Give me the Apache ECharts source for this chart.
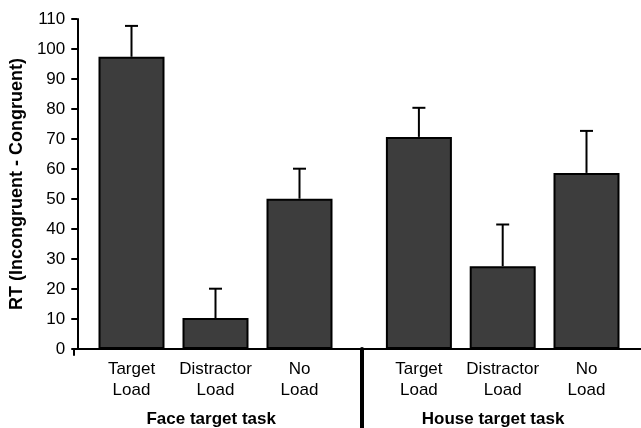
<!DOCTYPE html>
<html>
<head>
<meta charset="utf-8">
<script src="https://cdn.jsdelivr.net/npm/echarts@6/dist/echarts.min.js"></script>
<style>
html,body{margin:0;padding:0;background:#fff;}
#chart{width:641px;height:428px;}
</style>
</head>
<body>
<div id="chart"></div>
<script>
// ---- data ----
const groups = ['Face target task', 'House target task'];
const conditions = ['Target\nLoad', 'Distractor\nLoad', 'No\nLoad'];
const faceValues = [97.4, 10.3, 50.1];
const faceErrors = [10.3, 9.8, 10.0];
const houseValues = [70.7, 27.6, 58.7];
const houseErrors = [9.7, 13.9, 14.0];
const yTicks = { min: 0, max: 110, interval: 10 };

const FONT = '"Liberation Sans", Arial, Helvetica, sans-serif';
const chart = echarts.init(document.getElementById('chart'), null, { renderer: 'canvas' });

function errorRender(params, api) {
  const x = api.value(0), v = api.value(1), e = api.value(2);
  const base = api.coord([x, v]);
  const top = api.coord([x, v + e]);
  const hw = 6.5;
  return {
    type: 'group',
    children: [
      { type: 'line', shape: { x1: base[0], y1: base[1], x2: top[0], y2: top[1] }, style: { stroke: '#000', lineWidth: 2 } },
      { type: 'line', shape: { x1: top[0] - hw, y1: top[1], x2: top[0] + hw, y2: top[1] }, style: { stroke: '#000', lineWidth: 2 } }
    ]
  };
}

const barStyle = { color: '#3d3d3d', borderColor: '#000', borderWidth: 2 };
const catLabel = { color: '#000', fontSize: 17, lineHeight: 21, fontFamily: FONT, margin: 10, interval: 0 };

const option = {
  backgroundColor: '#fff',
  animation: false,
  grid: [
    { left: 74, right: -8, top: 19, bottom: 79 },        // frame grid: axes, group labels
    { left: 89.5, width: 252, top: 19, bottom: 79 },      // face group
    { left: 377, width: 251.4, top: 19, bottom: 79 },     // house group
    { left: 361.5, width: 50, top: 349, bottom: 0 },      // group separator
    { left: 74, width: 50, top: 349, height: 6 }          // y-axis stub below zero
  ],
  xAxis: [
    {
      gridIndex: 0, type: 'category', data: groups, position: 'bottom',
      axisLine: { show: true, lineStyle: { color: '#000', width: 2 } },
      axisTick: { show: false },
      axisLabel: { color: '#000', fontSize: 17, fontWeight: 'bold', fontFamily: FONT, margin: 62, padding: [0, 14, 0, 0], interval: 0 },
      splitLine: { show: false }
    },
    {
      gridIndex: 1, type: 'category', data: conditions,
      axisLine: { show: false }, axisTick: { show: false }, axisLabel: catLabel
    },
    {
      gridIndex: 2, type: 'category', data: conditions,
      axisLine: { show: false }, axisTick: { show: false }, axisLabel: catLabel
    },
    { gridIndex: 3, type: 'value', show: false, min: 0, max: 1, splitLine: { show: false } },
    { gridIndex: 4, type: 'value', show: false, min: 0, max: 1, splitLine: { show: false } }
  ],
  yAxis: [
    {
      gridIndex: 0, type: 'value', min: yTicks.min, max: yTicks.max, interval: yTicks.interval,
      name: 'RT (Incongruent - Congruent)', nameLocation: 'middle', nameRotate: 90, nameGap: 48,
      nameTextStyle: { color: '#000', fontSize: 18, fontWeight: 'bold', fontFamily: FONT },
      axisLine: { show: true, lineStyle: { color: '#000', width: 2 } },
      axisTick: { show: true, length: 6, lineStyle: { color: '#000', width: 2 } },
      axisLabel: { color: '#000', fontSize: 17, fontFamily: FONT, margin: 12 },
      splitLine: { show: false }
    },
    { gridIndex: 1, type: 'value', min: yTicks.min, max: yTicks.max, show: false, splitLine: { show: false } },
    { gridIndex: 2, type: 'value', min: yTicks.min, max: yTicks.max, show: false, splitLine: { show: false } },
    {
      gridIndex: 3, type: 'value', min: 0, max: 1,
      axisLine: { show: true, lineStyle: { color: '#000', width: 4 } },
      axisTick: { show: false }, axisLabel: { show: false }, splitLine: { show: false }
    },
    {
      gridIndex: 4, type: 'value', min: 0, max: 1,
      axisLine: { show: true, lineStyle: { color: '#000', width: 2 } },
      axisTick: { show: false }, axisLabel: { show: false }, splitLine: { show: false }
    }
  ],
  series: [
    { type: 'bar', xAxisIndex: 1, yAxisIndex: 1, data: faceValues, barWidth: 66, itemStyle: barStyle, z: 2 },
    { type: 'bar', xAxisIndex: 2, yAxisIndex: 2, data: houseValues, barWidth: 66, itemStyle: barStyle, z: 2 },
    { type: 'custom', xAxisIndex: 1, yAxisIndex: 1, renderItem: errorRender, z: 1,
      data: faceValues.map((v, i) => [i, v, faceErrors[i]]), encode: { x: 0, y: 1 } },
    { type: 'custom', xAxisIndex: 2, yAxisIndex: 2, renderItem: errorRender, z: 1,
      data: houseValues.map((v, i) => [i, v, houseErrors[i]]), encode: { x: 0, y: 1 } }
  ]
};
chart.setOption(option);
</script>
</body>
</html>
